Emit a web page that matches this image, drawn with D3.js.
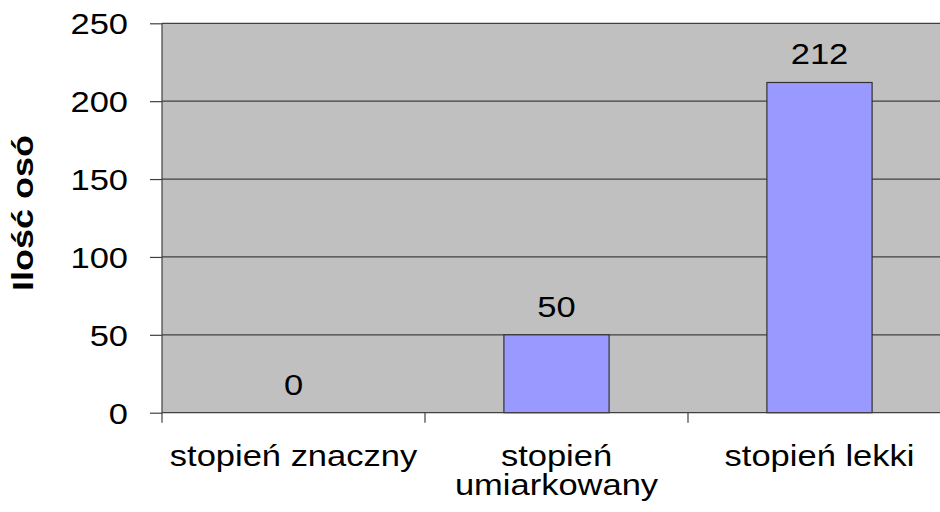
<!DOCTYPE html>
<html><head><meta charset="utf-8">
<script src="https://cdn.jsdelivr.net/npm/d3@7"></script>
<style>body{margin:0;background:#fff}svg{display:block}</style>
</head><body>
<script>
const categories = ["stopień znaczny", "stopień umiarkowany", "stopień lekki"];
const values = [0, 50, 212];
const yTicks = [0, 50, 100, 150, 200, 250];
const yTitle = "Ilość osó";

(function () {
const W = 940, H = 512;
const pL = 162, pR = 951, pT = 23.3, pB = 412.7;
const sx = 1.15; // horizontal glyph stretch
const font = "'Liberation Sans', Arial, sans-serif";

const svg = d3.select("body").append("svg").attr("width", W).attr("height", H);

const x = d3.scaleBand().domain(categories).range([pL, pR]).paddingInner(0).paddingOuter(0);
const xb = d3.scaleBand().domain(categories).range([pL, pR]).paddingInner(0.6).paddingOuter(0.3);
const y = d3.scaleLinear().domain([0, 250]).range([pB, pT]);

// plot background
svg.append("rect").attr("x", pL).attr("y", pT).attr("width", pR - pL).attr("height", pB - pT).attr("fill", "#c0c0c0");

// gridlines
svg.append("g").selectAll("line").data(yTicks.filter(d => d > 0)).join("line")
  .attr("x1", pL).attr("x2", pR).attr("y1", d => y(d)).attr("y2", d => y(d))
  .attr("stroke", "#404040").attr("stroke-width", 1.2);

// bars
svg.append("g").selectAll("rect").data(values).join("rect")
  .attr("x", (d, i) => xb(categories[i])).attr("width", xb.bandwidth())
  .attr("y", d => y(d)).attr("height", d => y(0) - y(d))
  .attr("fill", "#9999ff").attr("stroke", "#333").attr("stroke-width", 1.2)
  .style("display", d => d > 0 ? null : "none");

// y axis
const yAxis = svg.append("g").attr("transform", `translate(${pL},0)`)
  .call(d3.axisLeft(y).tickValues(yTicks).tickSize(12).tickPadding(0).tickFormat(""));
yAxis.select(".domain").remove();
yAxis.selectAll(".tick line").attr("stroke", "#404040").attr("stroke-width", 1.2);
svg.append("line").attr("x1", pL).attr("x2", pL).attr("y1", pT).attr("y2", pB + 10)
  .attr("stroke", "#404040").attr("stroke-width", 1.2);
svg.append("g").selectAll("text").data(yTicks).join("text")
  .attr("transform", d => `translate(128,${y(d) + 11}) scale(${sx},1)`)
  .attr("text-anchor", "end").attr("font-family", font).attr("font-size", 30).attr("fill", "#000")
  .text(d => d);

// x axis
svg.append("line").attr("x1", pL).attr("x2", pR).attr("y1", pB).attr("y2", pB)
  .attr("stroke", "#404040").attr("stroke-width", 1.2);
svg.append("g").selectAll("line").data(categories.slice(1)).join("line")
  .attr("x1", d => x(d)).attr("x2", d => x(d)).attr("y1", pB).attr("y2", pB + 10)
  .attr("stroke", "#404040").attr("stroke-width", 1.2);

// x labels with wrapping
const xl = svg.append("g");
categories.forEach(c => {
  const cx = x(c) + x.bandwidth() / 2;
  const t = xl.append("text").attr("font-family", font).attr("font-size", 30).attr("text-anchor", "middle")
    .attr("transform", `translate(${cx},466) scale(${sx},1)`).text(c);
  const w = t.node().getComputedTextLength() * sx;
  if (w > x.bandwidth() - 10) {
    const words = c.split(" ");
    t.text(null);
    words.forEach((wd, i) => t.append("tspan").attr("x", 0).attr("y", i * 29).text(wd));
  }
});

// data labels
svg.append("g").selectAll("text").data(values).join("text")
  .attr("transform", (d, i) => `translate(${x(categories[i]) + x.bandwidth() / 2},${y(d) - 18}) scale(${sx},1)`)
  .attr("text-anchor", "middle").attr("font-family", font).attr("font-size", 30).text(d => d);

// y title
svg.append("text")
  .attr("transform", `translate(33,213) rotate(-90) scale(1.24,1)`)
  .attr("text-anchor", "middle").attr("font-family", font).attr("font-size", 29).attr("font-weight", "bold")
  .text(yTitle);
})();
</script>
</body></html>
